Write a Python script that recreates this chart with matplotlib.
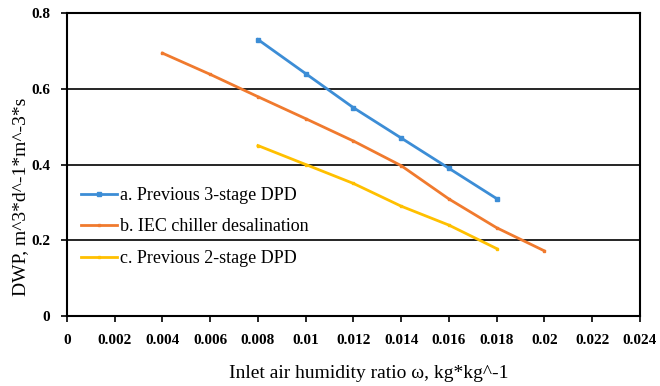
import matplotlib
matplotlib.use('agg')
import matplotlib.pyplot as plt

# data
omega_a = [0.008, 0.010, 0.012, 0.014, 0.016, 0.018]
dwp_a = [0.73, 0.64, 0.55, 0.47, 0.39, 0.31]
omega_b = [0.004, 0.006, 0.008, 0.010, 0.012, 0.014, 0.016, 0.018, 0.020]
dwp_b = [0.694, 0.638, 0.579, 0.521, 0.462, 0.397, 0.309, 0.233, 0.172]
omega_c = [0.008, 0.010, 0.012, 0.014, 0.016, 0.018]
dwp_c = [0.45, 0.40, 0.35, 0.29, 0.24, 0.178]
labels = ['a. Previous 3-stage DPD', 'b. IEC chiller desalination', 'c. Previous 2-stage DPD']
xticks = [0, 0.002, 0.004, 0.006, 0.008, 0.01, 0.012, 0.014, 0.016, 0.018, 0.02, 0.022, 0.024]
xtick_labels = ['0', '0.002', '0.004', '0.006', '0.008', '0.01', '0.012', '0.014',
                '0.016', '0.018', '0.02', '0.022', '0.024']
yticks = [0, 0.2, 0.4, 0.6, 0.8]
ytick_labels = ['0', '0.2', '0.4', '0.6', '0.8']

plt.rcParams['font.family'] = ['Liberation Serif', 'DejaVu Serif']

fig = plt.figure(figsize=(6.6, 3.86), dpi=100)
ax = fig.add_axes([0.1015, 0.1813, 0.868, 0.785])

ax.plot(omega_a, dwp_a, color='#3C8DD6', lw=2, marker='s', ms=3, label=labels[0])
ax.plot(omega_b, dwp_b, color='#F07A2E', lw=2, marker='s', ms=2, label=labels[1])
ax.plot(omega_c, dwp_c, color='#FFC000', lw=2, marker='s', ms=2, label=labels[2])

ax.set_xlim(0, 0.024)
ax.set_ylim(0, 0.8)
ax.set_xticks(xticks)
ax.set_xticklabels(xtick_labels, fontweight='bold', fontsize=11)
ax.set_yticks(yticks)
ax.set_yticklabels(ytick_labels, fontweight='bold', fontsize=11)
ax.tick_params(axis='both', direction='out', length=4, width=1.2, colors='black')
ax.tick_params(axis='x', pad=9)
ax.tick_params(axis='y', pad=8)
ax.yaxis.grid(True, color='black', lw=1.2)
ax.set_axisbelow(True)
for s in ax.spines.values():
    s.set_linewidth(1.5)
    s.set_color('black')

fig.text(369 / 660, 1 - 373 / 386, 'Inlet air humidity ratio \u03c9, kg*kg^-1',
         fontsize=14, ha='center', va='center')
fig.text(21 / 660, 1 - 197 / 386, 'DWP, m^3*d^-1*m^-3*s',
         fontsize=14, ha='center', va='center', rotation=90)

ax.legend(loc='center left', bbox_to_anchor=(0.024, 0.294), frameon=False, fontsize=13,
          handlelength=2.0, handletextpad=0.2, labelspacing=0.8,
          borderaxespad=0, borderpad=0)

fig.savefig('out.png', dpi=100)
